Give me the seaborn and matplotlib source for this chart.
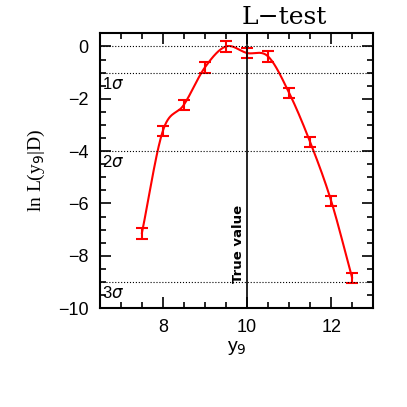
import numpy as np
import pandas as pd
import matplotlib
matplotlib.use("Agg")
import matplotlib.pyplot as plt
import seaborn as sns

# ---- data ----
y9 = [7.5, 8.0, 8.5, 9.0, 9.5, 10.0, 10.5, 11.0, 11.5, 12.0, 12.5]
lnL = [-7.15, -3.23, -2.23, -0.80, 0.00, -0.25, -0.38, -1.77, -3.65, -5.90, -8.85]
err = [0.2, 0.2, 0.2, 0.2, 0.2, 0.2, 0.2, 0.2, 0.2, 0.2, 0.2]
sigma_levels = [0, -1, -4, -9]
sigma_labels = ["", "1", "2", "3"]
true_value = 10.0


def catmull_rom(x, y, xs):
    # cubic Hermite with finite-difference tangents
    x = np.asarray(x, float)
    y = np.asarray(y, float)
    n = len(x)
    h = np.diff(x)
    m = np.zeros(n)
    m[1:-1] = (y[2:] - y[:-2]) / (x[2:] - x[:-2])
    m[0] = (y[1] - y[0]) / h[0]
    m[-1] = (y[-1] - y[-2]) / h[-1]
    idx = np.clip(np.searchsorted(x, xs) - 1, 0, n - 2)
    t = (xs - x[idx]) / h[idx]
    h00 = 2 * t**3 - 3 * t**2 + 1
    h10 = t**3 - 2 * t**2 + t
    h01 = -2 * t**3 + 3 * t**2
    h11 = t**3 - t**2
    return (h00 * y[idx] + h10 * h[idx] * m[idx]
            + h01 * y[idx + 1] + h11 * h[idx] * m[idx + 1])


sns.set_style("ticks")
plt.rcParams["font.family"] = ["Liberation Sans", "DejaVu Sans"]
plt.rcParams["text.color"] = "black"
plt.rcParams["axes.labelcolor"] = "black"
plt.rcParams["xtick.color"] = "black"
plt.rcParams["ytick.color"] = "black"
plt.rcParams["axes.edgecolor"] = "black"

fig, ax = plt.subplots(figsize=(4.07, 4.07), dpi=100)
fig.subplots_adjust(left=0.245, right=0.917, top=0.918, bottom=0.243)

xs = np.linspace(y9[0], y9[-1], 300)
curve = pd.DataFrame({"x": xs, "y": catmull_rom(y9, lnL, xs)})
sns.lineplot(data=curve, x="x", y="y", color="red", lw=1.5, ax=ax)
ax.errorbar(y9, lnL, yerr=err, fmt="none", ecolor="red", elinewidth=1.5,
            capsize=4, capthick=1.5)

for lev, lab in zip(sigma_levels, sigma_labels):
    ax.axhline(lev, color="black", ls=":", lw=0.8)
    if lab:
        ax.text(6.56, lev - 0.12, lab + r"$\sigma$", fontsize=12,
                va="top", ha="left")

ax.axvline(true_value, color="black", lw=1.2)
ax.text(true_value - 0.04, -9.05, "True value", rotation=90, ha="right",
        va="bottom", fontsize=9.5, fontweight="bold", family="DejaVu Sans")

ax.set_xlim(6.5, 13)
ax.set_ylim(-10, 0.5)
ax.set_xticks([8, 10, 12])
ax.set_yticks([-10, -8, -6, -4, -2, 0])
ax.set_xticks(np.arange(6.5, 13.01, 0.5), minor=True)
ax.set_yticks(np.arange(-10, 0.51, 0.5), minor=True)
ax.tick_params(which="both", direction="in", top=True, right=True,
               labelsize=13, width=1.2, pad=8)
ax.tick_params(which="major", length=8)
ax.tick_params(which="minor", length=4)
for s in ax.spines.values():
    s.set_linewidth(1.5)

ax.text(0.674, 1.033, "L\u2212test", transform=ax.transAxes, ha="center",
        va="baseline", fontsize=18, family=["DejaVu Serif"])
ax.set_xlabel(r"y$_9$", fontsize=14, labelpad=2)
ax.set_ylabel(r"ln L(y$_9$|D)", fontsize=14, labelpad=8,
              family=["Liberation Serif", "DejaVu Serif"])

fig.savefig("out.png", dpi=100)
